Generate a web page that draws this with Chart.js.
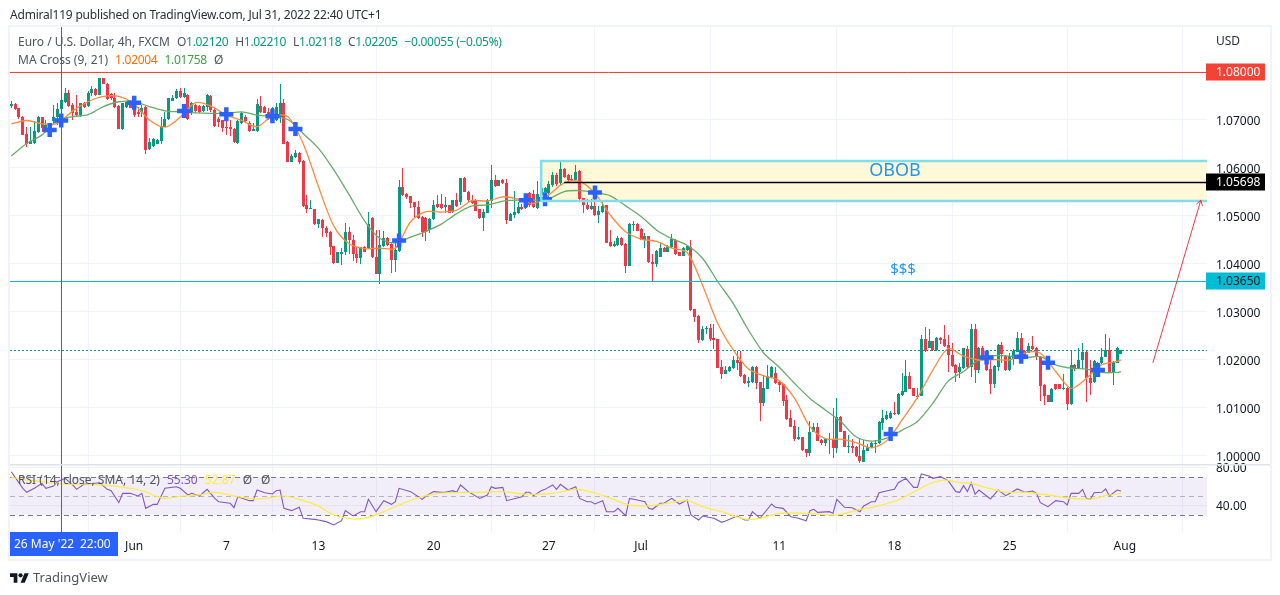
<!DOCTYPE html>
<html>
<head>
<meta charset="utf-8">
<title>EURUSD 4h</title>
<script src="https://cdn.jsdelivr.net/npm/chart.js@4/dist/chart.umd.min.js"></script>
<style>
  html, body { margin: 0; padding: 0; background: #fff; width: 1280px; height: 595px; overflow: hidden; }
  body { font-family: "Noto Sans", sans-serif; color: #131722; position: relative; }
  #chart { position: absolute; left: 0; top: 0; }
  #frame { position: absolute; left: 8px; top: 25px; width: 1260px; height: 532px; border: 2px solid #f0f3fa; }
  .txt { position: absolute; white-space: nowrap; font-size: 12px; line-height: 16px; }
  .legend { color: #50535e; letter-spacing: -0.3px; }
  .legend span { margin-right: 4px; }
</style>
</head>
<body>
<canvas id="chart" width="1280" height="595"></canvas>
<div id="frame"></div>
<div class="txt" style="left:10px;top:7px;color:#2a2e39;letter-spacing:-0.2px">Admiral119 published on TradingView.com, Jul 31, 2022 22:40 UTC+1</div>
<div class="txt legend" style="left:18px;top:34px;letter-spacing:0">Euro / U.S. Dollar, 4h, FXCM</div>
<div class="txt legend" style="left:177px;top:34px">O<span style="color:#089981">1.02120</span> H<span style="color:#089981">1.02210</span> L<span style="color:#089981">1.02118</span> C<span style="color:#089981">1.02205</span> <span style="color:#089981">−0.00055 (−0.05%)</span></div>
<div class="txt legend" style="left:18px;top:52px;letter-spacing:0">MA Cross (9, 21) <span style="color:#ff6d00;margin-left:4px;letter-spacing:-0.3px">1.02004</span> <span style="color:#43a047;letter-spacing:-0.3px">1.01758</span> Ø</div>
<div class="txt legend" style="left:18px;top:472px;letter-spacing:0">RSI (14, close, SMA, 14, 2) <span style="color:#7e57c2;margin-left:4px">55.30</span> <span style="color:#ffeb3b">52.87</span> <span style="margin-right:6px">Ø</span> Ø</div>
<div class="txt" style="left:1216px;top:33px;color:#2a2e39">USD</div>
<svg style="position:absolute;left:10px;top:572px" width="19" height="12" viewBox="0 3 36 20"><path d="M14 22H7V11H0V4h14v18zM28 22h-8l7.5-18h8L28 22z" fill="#131722"/><circle cx="20" cy="8" r="4" fill="#131722"/></svg>
<div class="txt" style="left:33px;top:569px;font-size:13px;color:#50535e">TradingView</div>

<script>
// Candles, one entry per 4h bar
const opens = [
1.0729,1.0733,1.0724,1.0706,1.0670,1.0650,1.0653,1.0674,1.0706,1.0683,
1.0679,1.0697,1.0707,1.0722,1.0738,1.0757,1.0731,1.0717,1.0710,1.0736,
1.0729,1.0756,1.0764,1.0752,1.0787,1.0776,1.0754,1.0745,1.0729,1.0681,
1.0728,1.0735,1.0728,1.0717,1.0717,1.0728,1.0639,1.0646,1.0651,1.0656,
1.0686,1.0703,1.0740,1.0745,1.0761,1.0747,1.0753,1.0717,1.0731,1.0729,
1.0719,1.0728,1.0751,1.0721,1.0702,1.0699,1.0686,1.0686,1.0681,1.0653,
1.0694,1.0706,1.0694,1.0678,1.0678,1.0729,1.0728,1.0717,1.0701,1.0700,
1.0706,1.0736,1.0654,1.0613,1.0622,1.0632,1.0615,1.0523,1.0516,1.0514,
1.0483,1.0492,1.0474,1.0467,1.0437,1.0403,1.0421,1.0424,1.0467,1.0450,
1.0421,1.0413,1.0435,1.0433,1.0496,1.0415,1.0379,1.0438,1.0454,1.0441,
1.0408,1.0428,1.0561,1.0546,1.0542,1.0530,1.0519,1.0497,1.0495,1.0471,
1.0493,1.0524,1.0526,1.0518,1.0522,1.0508,1.0533,1.0530,1.0579,1.0551,
1.0533,1.0533,1.0514,1.0496,1.0507,1.0532,1.0575,1.0563,1.0576,1.0569,
1.0490,1.0502,1.0506,1.0519,1.0516,1.0547,1.0546,1.0516,1.0544,1.0549,
1.0547,1.0565,1.0585,1.0568,1.0598,1.0585,1.0578,1.0575,1.0594,1.0537,
1.0523,1.0515,1.0521,1.0502,1.0508,1.0522,1.0445,1.0437,1.0440,1.0454,
1.0442,1.0396,1.0482,1.0483,1.0473,1.0451,1.0458,1.0405,1.0400,1.0415,
1.0434,1.0426,1.0435,1.0451,1.0424,1.0417,1.0429,1.0436,1.0306,1.0292,
1.0242,1.0264,1.0267,1.0245,1.0243,1.0185,1.0171,1.0178,1.0183,1.0201,
1.0196,1.0168,1.0153,1.0154,1.0185,1.0154,1.0111,1.0140,1.0164,1.0172,
1.0154,1.0150,1.0117,1.0079,1.0062,1.0035,1.0039,1.0014,1.0007,1.0051,
1.0060,1.0033,1.0028,1.0034,1.0035,1.0017,1.0082,1.0052,1.0019,1.0021,
1.0019,1.0000,0.9988,1.0011,1.0018,1.0026,1.0028,1.0069,1.0078,1.0079,
1.0089,1.0088,1.0128,1.0134,1.0167,1.0141,1.0126,1.0125,1.0244,1.0226,
1.0239,1.0221,1.0246,1.0244,1.0231,1.0210,1.0190,1.0174,1.0183,1.0222,
1.0185,1.0265,1.0179,1.0226,1.0215,1.0182,1.0150,1.0186,1.0231,1.0208,
1.0179,1.0203,1.0217,1.0246,1.0219,1.0215,1.0229,1.0224,1.0207,1.0147,
1.0127,1.0113,1.0150,1.0150,1.0139,1.0141,1.0108,1.0190,1.0183,1.0200,
1.0217,1.0163,1.0155,1.0169,1.0193,1.0207,1.0221,1.0176,1.0194,1.0212];
const closes = [
1.0733,1.0722,1.0706,1.0669,1.0651,1.0657,1.0678,1.0707,1.0683,1.0690,
1.0690,1.0707,1.0722,1.0742,1.0757,1.0729,1.0715,1.0710,1.0735,1.0728,
1.0757,1.0764,1.0752,1.0787,1.0775,1.0743,1.0745,1.0728,1.0682,1.0735,
1.0738,1.0726,1.0710,1.0712,1.0726,1.0638,1.0655,1.0660,1.0658,1.0688,
1.0703,1.0745,1.0745,1.0761,1.0747,1.0756,1.0703,1.0735,1.0719,1.0717,
1.0729,1.0752,1.0721,1.0688,1.0696,1.0683,1.0683,1.0681,1.0654,1.0697,
1.0715,1.0697,1.0678,1.0681,1.0733,1.0717,1.0715,1.0710,1.0724,1.0728,
1.0736,1.0651,1.0613,1.0625,1.0632,1.0613,1.0521,1.0515,1.0517,1.0483,
1.0493,1.0474,1.0464,1.0436,1.0403,1.0424,1.0425,1.0467,1.0449,1.0420,
1.0413,1.0435,1.0426,1.0483,1.0414,1.0379,1.0439,1.0454,1.0440,1.0408,
1.0429,1.0561,1.0544,1.0539,1.0528,1.0518,1.0495,1.0466,1.0467,1.0494,
1.0523,1.0518,1.0516,1.0523,1.0507,1.0533,1.0521,1.0579,1.0551,1.0533,
1.0528,1.0511,1.0496,1.0508,1.0533,1.0575,1.0562,1.0575,1.0568,1.0492,
1.0504,1.0509,1.0518,1.0514,1.0544,1.0523,1.0518,1.0546,1.0559,1.0558,
1.0566,1.0586,1.0566,1.0598,1.0581,1.0575,1.0574,1.0592,1.0535,1.0522,
1.0515,1.0521,1.0502,1.0510,1.0521,1.0444,1.0438,1.0441,1.0455,1.0440,
1.0396,1.0483,1.0483,1.0469,1.0451,1.0458,1.0405,1.0400,1.0427,1.0434,
1.0426,1.0437,1.0453,1.0420,1.0417,1.0434,1.0438,1.0304,1.0290,1.0242,
1.0264,1.0266,1.0244,1.0242,1.0184,1.0171,1.0179,1.0185,1.0201,1.0194,
1.0167,1.0153,1.0157,1.0185,1.0153,1.0111,1.0142,1.0167,1.0185,1.0153,
1.0148,1.0115,1.0078,1.0061,1.0035,1.0039,1.0013,1.0007,1.0051,1.0060,
1.0032,1.0028,1.0035,1.0035,1.0017,1.0081,1.0051,1.0019,1.0021,1.0017,
0.9999,0.9989,1.0012,1.0018,1.0028,1.0028,1.0071,1.0079,1.0085,1.0089,
1.0088,1.0129,1.0135,1.0167,1.0140,1.0125,1.0125,1.0244,1.0218,1.0239,
1.0221,1.0246,1.0242,1.0229,1.0210,1.0187,1.0172,1.0185,1.0224,1.0185,
1.0265,1.0179,1.0226,1.0200,1.0179,1.0150,1.0187,1.0231,1.0213,1.0179,
1.0208,1.0219,1.0246,1.0210,1.0210,1.0230,1.0222,1.0206,1.0146,1.0125,
1.0113,1.0140,1.0139,1.0140,1.0141,1.0108,1.0190,1.0181,1.0201,1.0217,
1.0162,1.0153,1.0197,1.0194,1.0207,1.0221,1.0174,1.0195,1.0226,1.0221];
const highs = [
1.0740,1.0735,1.0726,1.0708,1.0686,1.0686,1.0697,1.0708,1.0707,1.0700,
1.0693,1.0731,1.0735,1.0756,1.0766,1.0762,1.0735,1.0752,1.0736,1.0738,
1.0761,1.0771,1.0766,1.0788,1.0788,1.0778,1.0756,1.0757,1.0731,1.0736,
1.0740,1.0742,1.0745,1.0728,1.0731,1.0729,1.0662,1.0662,1.0660,1.0707,
1.0717,1.0746,1.0752,1.0764,1.0766,1.0766,1.0754,1.0738,1.0733,1.0731,
1.0731,1.0754,1.0752,1.0724,1.0707,1.0701,1.0707,1.0700,1.0683,1.0699,
1.0717,1.0710,1.0697,1.0693,1.0743,1.0750,1.0729,1.0724,1.0728,1.0735,
1.0775,1.0744,1.0656,1.0629,1.0638,1.0633,1.0617,1.0544,1.0533,1.0515,
1.0494,1.0494,1.0479,1.0468,1.0437,1.0425,1.0434,1.0485,1.0478,1.0460,
1.0436,1.0436,1.0437,1.0508,1.0497,1.0471,1.0471,1.0469,1.0456,1.0443,
1.0450,1.0574,1.0601,1.0547,1.0542,1.0530,1.0532,1.0499,1.0497,1.0495,
1.0533,1.0544,1.0546,1.0540,1.0523,1.0533,1.0547,1.0580,1.0582,1.0553,
1.0544,1.0535,1.0515,1.0515,1.0535,1.0607,1.0585,1.0576,1.0578,1.0578,
1.0506,1.0553,1.0530,1.0526,1.0546,1.0549,1.0554,1.0573,1.0562,1.0560,
1.0572,1.0592,1.0590,1.0617,1.0599,1.0588,1.0585,1.0606,1.0596,1.0538,
1.0535,1.0535,1.0535,1.0521,1.0533,1.0523,1.0471,1.0447,1.0458,1.0456,
1.0443,1.0485,1.0490,1.0485,1.0474,1.0464,1.0459,1.0421,1.0429,1.0443,
1.0436,1.0440,1.0462,1.0453,1.0426,1.0436,1.0440,1.0450,1.0307,1.0294,
1.0271,1.0271,1.0276,1.0276,1.0244,1.0199,1.0188,1.0188,1.0208,1.0219,
1.0219,1.0170,1.0165,1.0188,1.0188,1.0155,1.0168,1.0190,1.0188,1.0185,
1.0156,1.0151,1.0127,1.0096,1.0074,1.0060,1.0040,1.0015,1.0072,1.0068,
1.0069,1.0035,1.0037,1.0047,1.0099,1.0120,1.0084,1.0053,1.0044,1.0035,
1.0021,1.0035,1.0033,1.0025,1.0030,1.0033,1.0072,1.0096,1.0094,1.0094,
1.0112,1.0131,1.0172,1.0200,1.0176,1.0142,1.0141,1.0252,1.0268,1.0265,
1.0240,1.0247,1.0247,1.0273,1.0252,1.0235,1.0191,1.0193,1.0225,1.0229,
1.0276,1.0274,1.0228,1.0229,1.0217,1.0200,1.0189,1.0233,1.0238,1.0210,
1.0214,1.0222,1.0258,1.0256,1.0221,1.0235,1.0249,1.0228,1.0208,1.0149,
1.0128,1.0142,1.0151,1.0151,1.0171,1.0143,1.0221,1.0191,1.0224,1.0235,
1.0218,1.0200,1.0200,1.0196,1.0226,1.0254,1.0245,1.0197,1.0227,1.0221];
const lows = [
1.0724,1.0721,1.0703,1.0669,1.0644,1.0650,1.0651,1.0672,1.0676,1.0680,
1.0669,1.0693,1.0690,1.0714,1.0735,1.0728,1.0700,1.0707,1.0707,1.0726,
1.0728,1.0749,1.0749,1.0752,1.0774,1.0742,1.0742,1.0726,1.0681,1.0679,
1.0726,1.0724,1.0707,1.0706,1.0706,1.0629,1.0638,1.0644,1.0650,1.0651,
1.0685,1.0701,1.0739,1.0744,1.0745,1.0746,1.0701,1.0710,1.0714,1.0714,
1.0717,1.0719,1.0717,1.0686,1.0685,1.0674,1.0669,1.0667,1.0653,1.0651,
1.0692,1.0694,1.0676,1.0678,1.0676,1.0715,1.0714,1.0700,1.0699,1.0697,
1.0693,1.0650,1.0612,1.0613,1.0621,1.0608,1.0519,1.0507,1.0515,1.0481,
1.0476,1.0456,1.0456,1.0419,1.0400,1.0403,1.0398,1.0419,1.0421,1.0407,
1.0403,1.0400,1.0424,1.0432,1.0412,1.0379,1.0358,1.0436,1.0438,1.0382,
1.0383,1.0426,1.0542,1.0535,1.0516,1.0495,1.0494,1.0456,1.0447,1.0464,
1.0492,1.0516,1.0514,1.0506,1.0506,1.0506,1.0519,1.0523,1.0551,1.0530,
1.0526,1.0510,1.0494,1.0469,1.0506,1.0516,1.0561,1.0562,1.0567,1.0483,
1.0489,1.0495,1.0504,1.0513,1.0514,1.0518,1.0517,1.0515,1.0542,1.0533,
1.0535,1.0561,1.0563,1.0565,1.0579,1.0569,1.0572,1.0574,1.0533,1.0506,
1.0513,1.0513,1.0501,1.0485,1.0506,1.0443,1.0436,1.0436,1.0438,1.0438,
1.0382,1.0395,1.0469,1.0468,1.0450,1.0433,1.0403,1.0365,1.0393,1.0414,
1.0424,1.0424,1.0433,1.0418,1.0417,1.0417,1.0428,1.0302,1.0280,1.0236,
1.0240,1.0254,1.0240,1.0222,1.0183,1.0160,1.0171,1.0176,1.0182,1.0180,
1.0165,1.0150,1.0143,1.0153,1.0139,1.0072,1.0104,1.0139,1.0163,1.0151,
1.0134,1.0104,1.0076,1.0060,1.0032,1.0033,1.0011,0.9997,0.9999,1.0049,
1.0031,1.0022,1.0021,1.0004,0.9996,1.0007,1.0049,1.0018,1.0007,1.0006,
0.9997,0.9985,0.9987,1.0010,1.0017,1.0007,1.0026,1.0054,1.0076,1.0078,
1.0086,1.0086,1.0124,1.0133,1.0139,1.0124,1.0118,1.0125,1.0217,1.0226,
1.0219,1.0219,1.0233,1.0228,1.0174,1.0186,1.0155,1.0162,1.0182,1.0183,
1.0165,1.0153,1.0172,1.0199,1.0178,1.0129,1.0142,1.0178,1.0193,1.0178,
1.0178,1.0190,1.0216,1.0194,1.0209,1.0214,1.0221,1.0200,1.0115,1.0106,
1.0112,1.0112,1.0137,1.0139,1.0138,1.0096,1.0107,1.0178,1.0181,1.0181,
1.0113,1.0127,1.0153,1.0167,1.0192,1.0206,1.0172,1.0147,1.0193,1.0212];

// MA Cross lines, sampled every 4 bars
const maIdx = [0,4,8,12,16,20,24,28,32,36,40,44,48,52,56,60,64,68,72,76,80,84,88,92,96,100,104,108,112,116,120,124,128,132,136,140,144,148,152,156,160,164,168,172,176,180,184,188,192,196,200,204,208,212,216,220,224,228,232,236,240,244,248,252,256,260,264,268,272,276,280,284,288,289];
const maFast = [1.0692,1.0699,1.0692,1.0693,1.0719,1.0738,1.0749,1.0749,1.0733,1.0700,1.0685,1.0706,1.0736,1.0729,1.0710,1.0699,1.0686,1.0708,1.0707,1.0651,
1.0561,1.0479,1.0442,1.0432,1.0433,1.0433,1.0488,1.0509,1.0508,1.0512,1.0532,1.0531,1.0540,1.0535,1.0526,1.0544,1.0569,1.0572,1.0547,
1.0502,1.0467,1.0452,1.0447,1.0433,1.0424,1.0356,
1.0276,1.0221,1.0181,1.0167,1.0157,1.0120,1.0061,1.0036,1.0035,1.0028,1.0017,1.0032,1.0075,1.0122,
1.0179,1.0224,1.0208,1.0200,1.0201,1.0200,1.0215,1.0214,1.0176,1.0141,1.0162,1.0190,1.0197,1.0200];
const maSlow = [1.0625,1.0651,1.0669,1.0699,1.0707,1.0711,1.0728,1.0738,1.0738,1.0728,1.0719,1.0717,1.0715,1.0714,1.0714,1.0717,1.0710,1.0707,1.0701,1.0672,
1.0641,1.0596,1.0544,1.0490,1.0453,1.0444,1.0456,1.0468,1.0483,1.0505,1.0521,1.0523,1.0531,1.0533,1.0533,1.0536,1.0551,1.0553,1.0549,
1.0542,1.0521,1.0499,1.0471,1.0453,1.0439,1.0412,
1.0363,1.0318,1.0262,1.0214,1.0185,1.0151,1.0120,1.0096,1.0072,1.0040,1.0031,1.0037,1.0054,1.0072,
1.0110,1.0156,1.0176,1.0200,1.0209,1.0208,1.0205,1.0207,1.0190,1.0183,1.0181,1.0174,1.0174,1.0176];

// blue crosses where the two averages meet
const crossIdx = [10,13,32,45,56,68,74,101,134,139,152,229,254,263,270,283];
const crossVal = [1.0679,1.0699,1.0736,1.0719,1.0712,1.0708,1.0681,1.0449,1.0533,1.0535,1.0549,1.0046,1.0205,1.0207,1.0194,1.0179];

// RSI pane
const rsiIdx = [0,3,4,6,8,9,11,12,14,16,17,19,20,23,25,26,28,29,31,33,34,35,37,38,40,43,44,46,47,49,51,53,54,57,58,59,62,63,64,66,68,69,70,71,73,75,76,79,80,82,84,86,87,89,91,92,93,95,97,99,100,101,104,106,
107,108,110,112,113,115,116,117,119,122,124,125,126,128,129,133,134,135,136,138,139,141,142,143,145,147,148,150,151,152,154,155,157,158,160,161,163,165,166,167,169,170,172,174,176,177,179,180,183,185,186,189,191,192,193,195,198,199,201,203,205,207,208,209,210,213,214,215,
217,219,221,222,224,225,226,229,230,231,233,235,236,237,239,240,242,244,246,247,248,249,250,251,252,255,257,259,262,264,266,267,268,270,272,274,275,276,278,279,280,281,282,284,285,286,288,289];
const rsiVal = [75.6,58.1,53.9,58.1,63.3,58.1,60.5,65.1,68.6,61.6,57,62.6,62.6,64,57,55.6,43,52.8,52.8,50,52.8,37,41.2,41.2,58.1,59.8,58.1,51.1,52.8,50,57,47.5,44,42.3,37.7,49.3,45.1,45.1,56.3,53.5,52.1,55.6,56.3,37,34.6,38.1,26.5,25.4,24.7,23,19.5,24,34.6,29,33.5,33.5,46.5,33.5,45.1,41.2,44,58.1,54.6,49.3,
46.5,50,54.6,53.9,53.9,55.6,53.9,61.6,54.6,47.5,51.1,59.8,58.1,59.1,45.1,49.3,53.9,53.9,50.4,55.6,57,61.6,57,62.3,56.3,59.8,47.5,44,44,41.6,45.1,33.5,33.5,37,29.3,47.5,45.8,44,37,36,42.3,42.3,47.5,41.6,45.8,30,24.7,28.9,26.5,22.3,23.7,28.9,24.7,24.7,33.5,26.5,41.6,38.1,37,28.2,26.5,24,34.6,36,32.8,33.5,31.8,46.5,
38.1,37.7,33.5,39.5,44,44,53.5,56.3,57,64,68.6,59.1,59.1,73.2,71,68.6,70.4,66.1,54.6,53.9,60.9,54.6,64,51.8,56.3,46.8,56.3,50.4,57.4,53.9,55.3,52.8,43,38.8,45.1,44,40.5,52.8,52.8,57,47.5,46.5,53.5,53.9,57.4,50,56.3,55.3];
const rsiMaIdx = [0,4,8,14,20,27,32,35,38,40,45,49,53,58,64,68,71,75,80,84,89,93,97,101,106,111,115,122,128,134,141,147,153,159,162,167,176,180,185,191,195,200,207,215,221,225,231,236,239,243,247,250,253,257,259,264,270,276,281,285,289];
const rsiMaVal = [69.6,66.8,65.1,62.6,62.6,60.5,57.4,54.6,49.3,47.5,50,51.1,53.9,50,46.8,48.6,50,46.5,39.5,30,25.8,27.5,33.5,40.5,48.2,52.8,53.5,53.9,54.6,51.8,52.8,57,52.1,43,39.8,39.8,45.1,38.8,33.5,25.8,26.5,31.8,31.8,30,36,38.8,45.8,56.3,62.6,66.8,64,63.3,59.8,55.6,53.9,53.9,51.1,47.5,46.8,50.4,52.8];

// axis ticks
const timeTickIdx = [32,56,80,110,140,164,200,230,260,290];
const timeTickText = ['Jun','7','13','20','27','Jul','11','18','25','Aug'];
const priceTicks = [1.00,1.01,1.02,1.03,1.04,1.05,1.06,1.07,1.08];
const rsiTicks = [40,80];

// drawings on the chart
const resistanceLevel = 1.08;
const supportLevel = 1.0365;
const lastClose = 1.02205;
const oboLevel = 1.05698;
const oboLineStart = 144;
const oboBoxTop = 1.06146;
const oboBoxBottom = 1.05312;
const oboBoxStart = 138;
const arrowFrom = [297.3, 1.0194];
const arrowTo = [309.8, 1.0533];
const crosshairIdx = 13;
const rsiUpper = 70, rsiMiddle = 50, rsiLower = 30;

const up = '#089981', down = '#f23645';
const candleColors = opens.map((o, i) => closes[i] >= o ? up : down);

const tickFont = { family: '"Noto Sans", sans-serif', size: 12 };

function hLine(ctx, area, y, color, width, dash, fromX) {
  ctx.save();
  ctx.strokeStyle = color;
  ctx.lineWidth = width;
  ctx.setLineDash(dash || []);
  ctx.beginPath();
  ctx.moveTo(fromX === undefined ? area.left : fromX, Math.round(y) + 0.5);
  ctx.lineTo(area.right, Math.round(y) + 0.5);
  ctx.stroke();
  ctx.restore();
}

function badge(ctx, y, text, bg, fg) {
  ctx.fillStyle = bg;
  ctx.fillRect(1206, Math.round(y) - 8.5, 59, 17);
  ctx.fillStyle = fg;
  ctx.font = '12px "Noto Sans", sans-serif';
  ctx.textAlign = 'left';
  ctx.textBaseline = 'middle';
  ctx.fillText(text, 1216, Math.round(y) + 1);
}

// keeps the candles on whole pixels, the way the original is drawn
const snapCandles = {
  id: 'snapCandles',
  afterDatasetsUpdate(chart) {
    chart.getSortedVisibleDatasetMetas().forEach(meta => {
      if (meta.type !== 'bar') return;
      meta.data.forEach(bar => {
        bar.x = Math.floor(bar.x) + 0.5;
        bar.y = Math.round(bar.y);
        bar.base = Math.round(bar.base);
        if (bar.y === bar.base) bar.base = bar.y + 1;
      });
    });
  }
};

const drawings = {
  id: 'drawings',
  beforeDatasetsDraw(chart) {
    const { ctx, chartArea: area, scales } = chart;
    const { x, y, rsi } = scales;

    // RSI band
    ctx.fillStyle = 'rgba(126,87,194,0.1)';
    ctx.fillRect(area.left, rsi.getPixelForValue(rsiUpper), area.right - area.left,
      rsi.getPixelForValue(rsiLower) - rsi.getPixelForValue(rsiUpper));
    hLine(ctx, area, rsi.getPixelForValue(rsiUpper), '#787b86', 1, [5, 4]);
    hLine(ctx, area, rsi.getPixelForValue(rsiMiddle), '#b2b5be', 1, [5, 4]);
    hLine(ctx, area, rsi.getPixelForValue(rsiLower), '#787b86', 1, [5, 4]);

    // OBOB box fill
    const left = x.getPixelForValue(oboBoxStart);
    ctx.fillStyle = '#fff9d9';
    ctx.fillRect(left, y.getPixelForValue(oboBoxTop), area.right - left,
      y.getPixelForValue(oboBoxBottom) - y.getPixelForValue(oboBoxTop));

    hLine(ctx, area, y.getPixelForValue(lastClose), up, 1, [2, 2]);
  },
  afterDatasetsDraw(chart) {
    const { ctx, chartArea: area, scales } = chart;
    const { x, y } = scales;

    // OBOB box border, open on the right where it runs into the axis
    const left = x.getPixelForValue(oboBoxStart);
    const top = y.getPixelForValue(oboBoxTop);
    const bottom = y.getPixelForValue(oboBoxBottom);
    ctx.strokeStyle = '#80deea';
    ctx.lineWidth = 2.5;
    ctx.beginPath();
    ctx.moveTo(area.right, top);
    ctx.lineTo(left, top);
    ctx.lineTo(left, bottom);
    ctx.lineTo(area.right, bottom);
    ctx.stroke();

    hLine(ctx, area, y.getPixelForValue(oboLevel), '#000000', 1.5, null, x.getPixelForValue(oboLineStart));
    hLine(ctx, area, y.getPixelForValue(resistanceLevel), '#f44336', 1);
    hLine(ctx, area, y.getPixelForValue(supportLevel), '#00bcd4', 1);

    ctx.fillStyle = '#2196f3';
    ctx.textAlign = 'center';
    ctx.textBaseline = 'middle';
    ctx.font = '18px "Noto Sans", sans-serif';
    ctx.fillText('OBOB', 895, y.getPixelForValue(1.0594));
    ctx.font = '15px "Noto Sans", sans-serif';
    ctx.fillText('$$$', 903, y.getPixelForValue(1.0389));

    // arrow
    const ax = x.getPixelForValue(arrowFrom[0]), ay = y.getPixelForValue(arrowFrom[1]);
    const bx = x.getPixelForValue(arrowTo[0]), by = y.getPixelForValue(arrowTo[1]);
    const ang = Math.atan2(by - ay, bx - ax);
    ctx.strokeStyle = '#f23645';
    ctx.lineWidth = 1;
    ctx.beginPath();
    ctx.moveTo(ax, ay);
    ctx.lineTo(bx, by);
    ctx.moveTo(bx - 6 * Math.cos(ang - 0.55), by - 6 * Math.sin(ang - 0.55));
    ctx.lineTo(bx, by);
    ctx.lineTo(bx - 6 * Math.cos(ang + 0.55), by - 6 * Math.sin(ang + 0.55));
    ctx.stroke();

    // crosshair
    const cx = Math.round(x.getPixelForValue(crosshairIdx)) + 0.5;
    ctx.strokeStyle = '#2962ff';
    ctx.beginPath();
    ctx.moveTo(cx, area.top);
    ctx.lineTo(cx, area.bottom);
    ctx.stroke();
  },
  afterDraw(chart) {
    const { ctx, chartArea: area, scales } = chart;
    const { y } = scales;

    // pane separator
    ctx.fillStyle = '#e0e3eb';
    ctx.fillRect(area.left, y.bottom, 1260, 1.5);

    badge(ctx, y.getPixelForValue(resistanceLevel), '1.08000', '#f44336', '#ffffff');
    badge(ctx, y.getPixelForValue(oboLevel), '1.05698', '#000000', '#ffffff');
    badge(ctx, y.getPixelForValue(supportLevel), '1.03650', '#00bcd4', '#131722');

    // date label of the crosshair
    ctx.fillStyle = '#2962ff';
    ctx.fillRect(10, area.bottom, 108, 24);
    ctx.fillStyle = '#ffffff';
    ctx.font = '12px "Noto Sans", sans-serif';
    ctx.textAlign = 'left';
    ctx.textBaseline = 'middle';
    ctx.fillText("26 May '22", 14, area.bottom + 13);
    ctx.fillText('22:00', 80, area.bottom + 13);
  }
};

const wicks = highs.map((h, i) => ({ x: i, y: [lows[i], h] }));
const bodies = opens.map((o, i) => ({ x: i, y: [o, closes[i]] }));

new Chart(document.getElementById('chart'), {
  type: 'bar',
  data: {
    datasets: [
      { type: 'line', data: crossIdx.map((v, i) => ({ x: v, y: crossVal[i] })), yAxisID: 'y', order: 1,
        showLine: false, pointStyle: 'cross', pointRadius: 7, pointBorderWidth: 4.5, pointBorderColor: '#2962ff' },
      { type: 'line', data: maIdx.map((v, i) => ({ x: v, y: maFast[i] })), yAxisID: 'y', order: 2,
        borderColor: '#ff8a3c', borderWidth: 1.3, pointRadius: 0, tension: 0.3 },
      { type: 'line', data: maIdx.map((v, i) => ({ x: v, y: maSlow[i] })), yAxisID: 'y', order: 3,
        borderColor: '#66ad6a', borderWidth: 1.3, pointRadius: 0, tension: 0.3 },
      { data: bodies, yAxisID: 'y', order: 4, barThickness: 3, inflateAmount: 0, backgroundColor: candleColors, grouped: false },
      { data: wicks, yAxisID: 'y', order: 5, barThickness: 1, inflateAmount: 0, backgroundColor: candleColors, grouped: false },
      { type: 'line', data: rsiMaIdx.map((v, i) => ({ x: v, y: rsiMaVal[i] })), yAxisID: 'rsi', order: 6,
        borderColor: '#ffeb3b', borderWidth: 1.2, pointRadius: 0, tension: 0.3 },
      { type: 'line', data: rsiIdx.map((v, i) => ({ x: v, y: rsiVal[i] })), yAxisID: 'rsi', order: 7,
        borderColor: '#7e57c2', borderWidth: 1.1, pointRadius: 0 }
    ]
  },
  options: {
    responsive: false,
    animation: false,
    events: [],
    layout: { autoPadding: false, padding: { left: 10, right: 10, top: 27, bottom: 39 } },
    plugins: { legend: { display: false }, tooltip: { enabled: false } },
    scales: {
      x: {
        type: 'linear',
        offset: false,
        min: -0.34,
        max: 311.4,
        afterBuildTicks(axis) { axis.ticks = timeTickIdx.map(v => ({ value: v })); },
        afterFit(axis) { axis.height = 24; },
        grid: { color: '#f0f3fa', drawTicks: false },
        border: { display: false },
        ticks: {
          autoSkip: false,
          maxRotation: 0,
          padding: 7,
          color: '#131722',
          font: tickFont,
          callback: v => timeTickText[timeTickIdx.indexOf(v)]
        }
      },
      y: {
        position: 'right',
        stack: 'panes',
        stackWeight: 437,
        min: 0.99833,
        max: 1.089375,
        afterBuildTicks(axis) { axis.ticks = priceTicks.map(v => ({ value: v })); },
        afterFit(axis) { axis.width = 63; },
        grid: { color: '#f0f3fa', drawTicks: false },
        border: { display: false },
        ticks: { padding: 9, labelOffset: 1.5, color: '#131722', font: tickFont, callback: v => v.toFixed(5) }
      },
      rsi: {
        position: 'right',
        stack: 'panes',
        stackWeight: 68,
        min: 12.1,
        max: 83.7,
        afterBuildTicks(axis) { axis.ticks = rsiTicks.map(v => ({ value: v })); },
        afterFit(axis) { axis.width = 63; },
        grid: { color: '#f0f3fa', drawTicks: false },
        border: { display: false },
        ticks: { padding: 9, labelOffset: 1.5, color: '#131722', font: tickFont, callback: v => v.toFixed(2) }
      }
    }
  },
  plugins: [snapCandles, drawings]
});
</script>
</body>
</html>
